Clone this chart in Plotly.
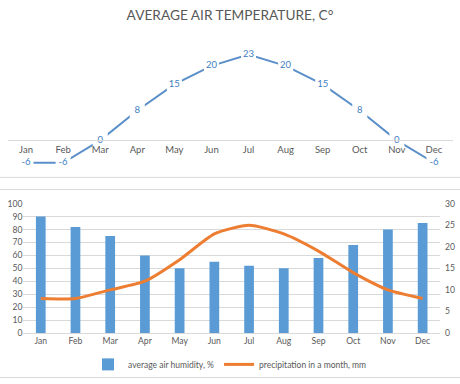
import plotly.graph_objects as go

months = ["Jan", "Feb", "Mar", "Apr", "May", "Jun", "Jul", "Aug", "Sep", "Oct", "Nov", "Dec"]
temperature = [-6, -6, 0, 8, 15, 20, 23, 20, 15, 8, 0, -6]
humidity = [90, 82, 75, 60, 50, 55, 52, 50, 58, 68, 80, 85]
precipitation = [8, 8, 10, 12, 17, 23, 25, 23, 19, 14, 10, 8]

W, H = 460, 384
FONT = "Lato"
GRAY = "#595959"
GRID = "#D9D9D9"

def py(px):
    return 1 - px / H

def px_(x):
    return x / W

# top chart geometry
t_rng = [-8, 26]
t_top, t_bot = 39.5, 169.6
zero_px = t_bot - (0 - t_rng[0]) / (t_rng[1] - t_rng[0]) * (t_bot - t_top)

fig = go.Figure()

fig.add_trace(go.Scatter(
    x=months, y=temperature, mode="lines+markers+text",
    text=[str(v) for v in temperature], textposition="middle center",
    textfont=dict(family=FONT, size=9.5, color="#3F7FBF"),
    line=dict(color="#5B8FC9", width=2),
    marker=dict(symbol="square", size=15, color="white", line=dict(width=0)),
    xaxis="x", yaxis="y", showlegend=False, cliponaxis=False, hoverinfo="skip",
))

fig.add_trace(go.Bar(
    x=months, y=humidity, name="average air humidity, %",
    marker=dict(color="#5B9BD5", line=dict(width=0)),
    xaxis="x2", yaxis="y2",
))

fig.add_trace(go.Scatter(
    x=months, y=precipitation, name="precipitation in a month, mm", mode="lines",
    line=dict(color="#ED7D31", width=3, shape="spline", smoothing=0.6),
    xaxis="x2", yaxis="y3",
))

fig.update_layout(
    width=W, height=H,
    margin=dict(l=0, r=0, t=0, b=0),
    paper_bgcolor="white", plot_bgcolor="white",
    font=dict(family=FONT, size=9, color=GRAY),
    title=dict(text="AVERAGE AIR TEMPERATURE, C°", x=0.5, xanchor="center",
               y=py(15), yanchor="middle", font=dict(family=FONT, size=13.7, color=GRAY)),
    bargap=0.72,
    xaxis=dict(domain=[px_(7.5), px_(452.5)], range=[-0.5, 11.5], anchor="free",
               position=py(zero_px), showline=True, linecolor=GRID, linewidth=1,
               showgrid=False, zeroline=False, ticks="",
               tickfont=dict(family=FONT, size=9.5, color=GRAY)),
    yaxis=dict(domain=[py(t_bot), py(t_top)], range=t_rng, visible=False,
               showgrid=False, zeroline=False),
    xaxis2=dict(domain=[px_(23.4), px_(440)], anchor="y2", showline=True,
                linecolor=GRID, linewidth=1, ticks="", showgrid=False,
                tickfont=dict(family=FONT, size=8.6, color=GRAY)),
    yaxis2=dict(domain=[py(336.7), py(204)], range=[0, 100], dtick=10,
                showgrid=True, gridcolor=GRID, gridwidth=1, zeroline=False,
                showline=False, ticks="", anchor="x2",
                tickfont=dict(family=FONT, size=8.6, color=GRAY)),
    yaxis3=dict(range=[0, 30], dtick=5, overlaying="y2", side="right",
                showgrid=False, zeroline=False, showline=False, ticks="",
                anchor="x2", ticklabelstandoff=4,
                tickfont=dict(family=FONT, size=8.6, color=GRAY)),
    legend=dict(orientation="h", x=0.5, xanchor="center", y=py(369), yanchor="middle",
                font=dict(family=FONT, size=8.5, color=GRAY), bgcolor="rgba(0,0,0,0)",
                itemwidth=30),
    shapes=[
        dict(type="line", xref="paper", yref="paper", x0=0, x1=1, y0=py(177), y1=py(177),
             line=dict(color=GRID, width=1)),
        dict(type="line", xref="paper", yref="paper", x0=0, x1=1, y0=py(189.5), y1=py(189.5),
             line=dict(color=GRID, width=1)),
        dict(type="line", xref="paper", yref="paper", x0=0, x1=1, y0=py(382.5), y1=py(382.5),
             line=dict(color=GRID, width=1)),
    ],
)

fig.write_html("out.html", config={"displayModeBar": False},
               post_script="document.body.style.margin='0';")
